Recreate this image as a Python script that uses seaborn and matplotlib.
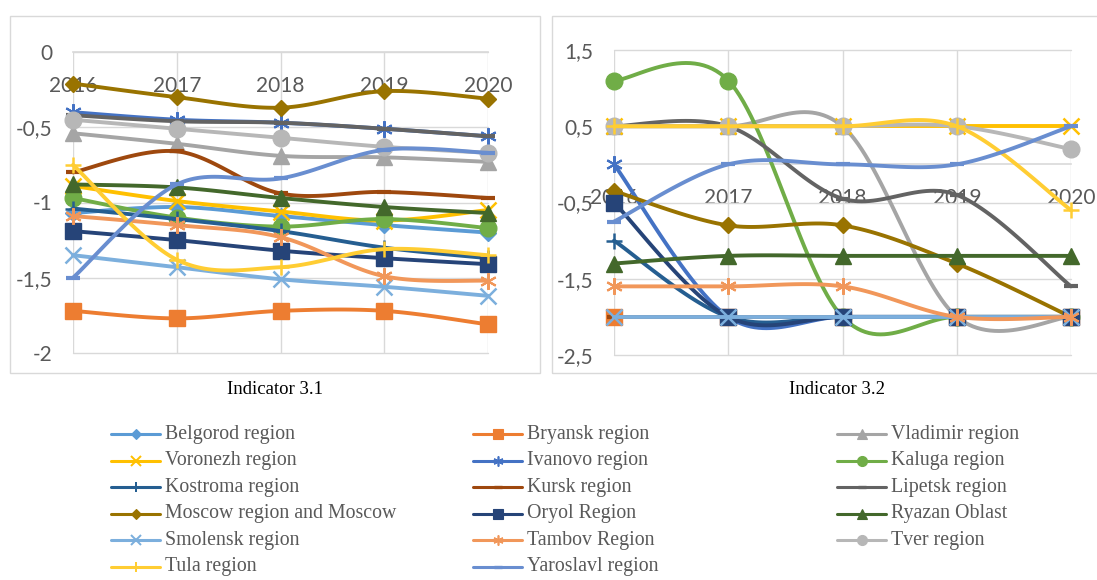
import numpy as np
import seaborn as sns
import matplotlib
matplotlib.use("Agg")
import matplotlib.pyplot as plt
from matplotlib.lines import Line2D
from matplotlib.patches import Rectangle
from matplotlib.ticker import FuncFormatter

# ---------------------------------------------------------------- data
YEARS = ["2016", "2017", "2018", "2019", "2020"]

REGIONS = [
    "Belgorod region", "Bryansk region", "Vladimir region", "Voronezh region",
    "Ivanovo region", "Kaluga region", "Kostroma region", "Kursk region",
    "Lipetsk region", "Moscow region and Moscow", "Oryol Region", "Ryazan Oblast",
    "Smolensk region", "Tambov Region", "Tver region", "Tula region",
    "Yaroslavl region",
]

# Indicator 3.1
belgorod_31 = [-1.07, -1.03, -1.09, -1.15, -1.20]
bryansk_31 = [-1.72, -1.77, -1.72, -1.72, -1.81]
vladimir_31 = [-0.54, -0.61, -0.69, -0.70, -0.73]
voronezh_31 = [-0.89, -0.99, -1.06, -1.12, -1.05]
ivanovo_31 = [-0.40, -0.45, -0.47, -0.51, -0.56]
kaluga_31 = [-0.97, -1.10, -1.16, -1.11, -1.17]
kostroma_31 = [-1.04, -1.11, -1.19, -1.30, -1.37]
kursk_31 = [-0.80, -0.66, -0.94, -0.93, -0.97]
lipetsk_31 = [-0.42, -0.46, -0.47, -0.51, -0.56]
moscow_31 = [-0.21, -0.30, -0.37, -0.26, -0.31]
oryol_31 = [-1.19, -1.25, -1.32, -1.37, -1.41]
ryazan_31 = [-0.88, -0.90, -0.97, -1.03, -1.07]
smolensk_31 = [-1.35, -1.43, -1.51, -1.56, -1.62]
tambov_31 = [-1.09, -1.15, -1.23, -1.49, -1.52]
tver_31 = [-0.45, -0.51, -0.57, -0.63, -0.67]
tula_31 = [-0.75, -1.38, -1.43, -1.31, -1.35]
yaroslavl_31 = [-1.50, -0.88, -0.84, -0.65, -0.67]

# Indicator 3.2
belgorod_32 = [-2, -2, -2, -2, -2]
bryansk_32 = [-2, -2, -2, -2, -2]
vladimir_32 = [0.5, 0.5, 0.5, -2, -2]
voronezh_32 = [0.5, 0.5, 0.5, 0.5, 0.5]
ivanovo_32 = [0, -2, -2, -2, -2]
kaluga_32 = [1.1, 1.1, -2, -2, -2]
kostroma_32 = [-1, -2, -2, -2, -2]
kursk_32 = [-2, -2, -2, -2, -2]
lipetsk_32 = [0.5, 0.5, -0.45, -0.4, -1.6]
moscow_32 = [-0.35, -0.8, -0.8, -1.3, -2]
oryol_32 = [-0.5, -2, -2, -2, -2]
ryazan_32 = [-1.3, -1.2, -1.2, -1.2, -1.2]
smolensk_32 = [-2, -2, -2, -2, -2]
tambov_32 = [-1.6, -1.6, -1.6, -2, -2]
tver_32 = [0.5, 0.5, 0.5, 0.5, 0.2]
tula_32 = [0.5, 0.5, 0.5, 0.5, -0.6]
yaroslavl_32 = [-0.75, 0, 0, 0, 0.5]

SERIES_31 = [belgorod_31, bryansk_31, vladimir_31, voronezh_31, ivanovo_31,
             kaluga_31, kostroma_31, kursk_31, lipetsk_31, moscow_31, oryol_31,
             ryazan_31, smolensk_31, tambov_31, tver_31, tula_31, yaroslavl_31]
SERIES_32 = [belgorod_32, bryansk_32, vladimir_32, voronezh_32, ivanovo_32,
             kaluga_32, kostroma_32, kursk_32, lipetsk_32, moscow_32, oryol_32,
             ryazan_32, smolensk_32, tambov_32, tver_32, tula_32, yaroslavl_32]

# ---------------------------------------------------------------- styles
COLORS = ["#5B9BD5", "#ED7D31", "#A5A5A5", "#FFC000", "#4472C4", "#70AD47",
          "#255E91", "#9E480E", "#636363", "#997300", "#264478", "#43682B",
          "#7CAFDD", "#F1975A", "#B7B7B7", "#FFCD33", "#698ED0"]
ASTERISK = (6, 2, 0)
MARKERS = ["D", "s", "^", "x", ASTERISK, "o", "+", "_", "_",
           "D", "s", "^", "x", ASTERISK, "o", "+", "_"]
MSIZE = {"D": 8.5, "s": 11.5, "^": 12, "x": 11, ASTERISK: 12, "o": 12, "+": 12, "_": 10}
MEW = {"D": 1, "s": 1, "^": 1, "x": 1.8, ASTERISK: 1.5, "o": 1, "+": 1.8, "_": 3}

GRID = "#D9D9D9"
TEXT = "#595959"

sns.set_theme(style="white")
plt.rcParams["font.family"] = ["Lato", "DejaVu Sans"]

W, H = 1097, 580
fig = plt.figure(figsize=(W / 100, H / 100), dpi=100)
fig.patch.set_facecolor("white")


def px_box(x0, y0, x1, y1):
    """Figure-fraction rectangle from pixel corners (top-left origin)."""
    return [x0 / W, 1 - y1 / H, (x1 - x0) / W, (y1 - y0) / H]


def smooth_path(values, steps=30):
    """Bezier smoothing through every point (Catmull-Rom control points)."""
    p = np.asarray(values, dtype=float)
    n = len(p)
    x = np.arange(n, dtype=float)
    t = np.linspace(0, 1, steps, endpoint=False)
    xs, ys = [], []
    for i in range(n - 1):
        i0, i3 = max(i - 1, 0), min(i + 2, n - 1)
        c1x = x[i] + (x[i + 1] - x[i0]) / 6
        c1y = p[i] + (p[i + 1] - p[i0]) / 6
        c2x = x[i + 1] - (x[i3] - x[i]) / 6
        c2y = p[i + 1] - (p[i3] - p[i]) / 6
        b0, b1, b2, b3 = (1 - t) ** 3, 3 * (1 - t) ** 2 * t, 3 * (1 - t) * t ** 2, t ** 3
        xs.append(b0 * x[i] + b1 * c1x + b2 * c2x + b3 * x[i + 1])
        ys.append(b0 * p[i] + b1 * c1y + b2 * c2y + b3 * p[i + 1])
    xs.append([x[-1]])
    ys.append([p[-1]])
    return np.concatenate(xs), np.concatenate(ys), [k * steps for k in range(n)]


def draw_panel(ax, series, ylim, yticks):
    for k, vals in enumerate(series):
        xs, ys, knots = smooth_path(vals)
        m = MARKERS[k]
        c = COLORS[k]
        sns.lineplot(x=xs, y=ys, ax=ax, sort=False, estimator=None, legend=False,
                     color=c, linewidth=2.8, marker=m, markevery=knots,
                     markersize=MSIZE[m], markeredgewidth=MEW[m],
                     markerfacecolor=c, markeredgecolor=c,
                     solid_capstyle="round", zorder=3 + k * 0.01, clip_on=False)
    ax.set_xlim(0, 4)
    ax.set_ylim(*ylim)
    ax.set_xticks(range(len(YEARS)))
    ax.set_xticklabels(YEARS)
    ax.set_yticks(yticks)
    ax.yaxis.set_major_formatter(FuncFormatter(lambda v, _: f"{v:g}".replace(".", ",")))
    ax.set_xlabel("")
    ax.set_ylabel("")
    ax.grid(True, color=GRID, linewidth=1.0)
    ax.set_axisbelow(True)
    for gl in ax.get_xgridlines() + ax.get_ygridlines():
        gl.set_clip_on(False)
    for side in ("left", "right", "top"):
        ax.spines[side].set_visible(False)
    ax.spines["bottom"].set_position(("data", 0))
    ax.spines["bottom"].set_color(GRID)
    ax.spines["bottom"].set_linewidth(1.2)
    ax.tick_params(axis="x", length=0, pad=17, labelsize=15, labelcolor=TEXT)
    ax.tick_params(axis="y", length=0, pad=15, labelsize=15, labelcolor=TEXT)
    ax.set_facecolor("none")


# chart frames
for x0, x1 in ((10, 540), (552, 1100)):
    fig.add_artist(Rectangle((x0 / W, 1 - 373 / H), (x1 - x0) / W, (373 - 16) / H,
                             transform=fig.transFigure, fill=False,
                             edgecolor=GRID, linewidth=1.0))

ax1 = fig.add_axes(px_box(73, 52, 488, 353))
draw_panel(ax1, SERIES_31, (-2, 0), [-2, -1.5, -1, -0.5, 0])

ax2 = fig.add_axes(px_box(614, 50, 1071, 355))
draw_panel(ax2, SERIES_32, (-2.5, 1.5), [-2.5, -1.5, -0.5, 0.5, 1.5])

serif = ["Liberation Serif", "DejaVu Serif"]
fig.text(275 / W, 1 - 390 / H, "Indicator 3.1", ha="center", va="center",
         fontsize=13.5, family=serif, color="black")
fig.text(837 / W, 1 - 390 / H, "Indicator 3.2", ha="center", va="center",
         fontsize=13.5, family=serif, color="black")

# legend: three columns, filled row by row
COL_X = [111, 473, 837]
ROW_Y0, ROW_DY = 434, 26.6
for k, name in enumerate(REGIONS):
    r, c = divmod(k, 3)
    x0 = COL_X[c]
    y = ROW_Y0 + r * ROW_DY
    fy = 1 - y / H
    m = MARKERS[k]
    fig.add_artist(Line2D([x0 / W, (x0 + 49) / W], [fy, fy], transform=fig.transFigure,
                          color=COLORS[k], linewidth=2.2))
    fig.add_artist(Line2D([(x0 + 24.5) / W], [fy], transform=fig.transFigure,
                          linestyle="none", marker=m, color=COLORS[k],
                          markersize=MSIZE[m] * 0.6, markeredgewidth=MEW[m] * 0.8,
                          markerfacecolor=COLORS[k], markeredgecolor=COLORS[k]))
    fig.text((x0 + 54) / W, fy, name, ha="left", va="center",
             fontsize=14.3, family=serif, color=TEXT)

fig.savefig("out.png", dpi=100)
